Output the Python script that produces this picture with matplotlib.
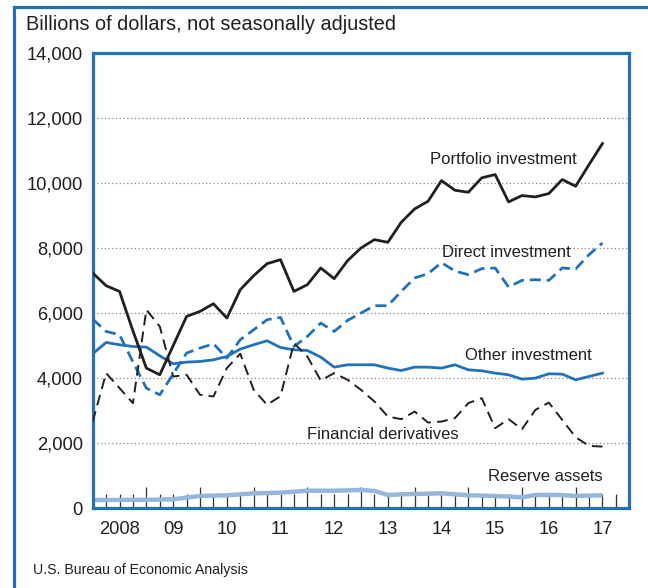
import matplotlib
matplotlib.use("Agg")
import matplotlib.pyplot as plt
from matplotlib.lines import Line2D
import numpy as np

plt.rcParams['font.family'] = ['Liberation Sans', 'DejaVu Sans']

# Quarterly data, end of 2007Q4 .. 2017Q2 (39 quarters)
quarters = [2008 + 0.25 * i for i in range(39)]

portfolio = [7231, 6840, 6665, 5450, 4308, 4102, 5000, 5896, 6050, 6286,
             5846, 6717, 7148, 7517, 7640, 6665, 6871, 7385, 7056, 7610,
             8000, 8256, 8174, 8789, 9200, 9435, 10071, 9773, 9712, 10154,
             10256, 9415, 9610, 9569, 9671, 10102, 9897, 10564, 11210]
direct = [5815, 5435, 5333, 4500, 3692, 3487, 4130, 4770, 4923, 5056,
          4616, 5180, 5487, 5794, 5865, 4972, 5280, 5692, 5435, 5774,
          6000, 6225, 6225, 6665, 7077, 7210, 7548, 7291, 7179, 7364,
          7385, 6800, 7003, 7025, 7003, 7385, 7354, 7795, 8154]
other = [4748, 5096, 5025, 4972, 4954, 4686, 4440, 4492, 4512, 4563,
         4665, 4892, 5025, 5148, 4940, 4871, 4850, 4646, 4338, 4410,
         4410, 4410, 4308, 4234, 4338, 4338, 4308, 4410, 4256, 4225,
         4154, 4102, 3969, 4000, 4133, 4123, 3948, 4051, 4154]
derivatives = [2665, 4154, 3692, 3231, 6102, 5588, 4050, 4102, 3487, 3436,
               4308, 4748, 3641, 3179, 3446, 5077, 4665, 3928, 4154, 3948,
               3641, 3282, 2819, 2739, 2973, 2634, 2665, 2769, 3231, 3385,
               2462, 2739, 2431, 3025, 3249, 2717, 2185, 1917, 1896]
reserve = [255, 255, 258, 260, 262, 268, 277, 330, 378, 390,
           400, 430, 461, 470, 480, 510, 541, 540, 541, 550,
           563, 532, 409, 430, 440, 450, 461, 430, 400, 390,
           378, 360, 338, 409, 410, 409, 378, 390, 400]

yticks = [0, 2000, 4000, 6000, 8000, 10000, 12000, 14000]
ytick_labels = ["0", "2,000", "4,000", "6,000", "8,000", "10,000", "12,000", "14,000"]
year_labels = ["2008", "09", "10", "11", "12", "13", "14", "15", "16", "17"]

BLUE = '#2372b9'
LIGHTBLUE = '#97b6de'
BLACK = '#231f20'

W, H = 648, 588
fig = plt.figure(figsize=(W / 100, H / 100), dpi=100)
ax = fig.add_axes([92.7 / W, 1 - 508.3 / H, (629.3 - 92.7) / W, (508.3 - 52.7) / H])

# grid
for y in yticks[1:-1]:
    ax.axhline(y, color='#8a8a8a', lw=0.9, ls=(0, (1, 2)), zorder=1)

ax.plot(quarters, reserve, color=LIGHTBLUE, lw=3.2, zorder=2, solid_capstyle='butt')
ax.plot(quarters, other, color=BLUE, lw=2.0, zorder=3)
ax.plot(quarters, direct, color=BLUE, lw=2.0, ls=(0, (4.0, 2.1)), zorder=3)
ax.plot(quarters, derivatives, color=BLACK, lw=1.4, ls=(0, (5.5, 3.2)), zorder=4)
ax.plot(quarters, portfolio, color=BLACK, lw=2.0, zorder=5)

ax.set_xlim(2008, 2018)
ax.set_ylim(0, 14000)

for s in ax.spines.values():
    s.set_color(BLUE)
    s.set_linewidth(2.3)

# tick marks: year boundaries taller
ax.set_xticks([2009 + i for i in range(9)])
ax.set_xticks([2008 + 0.25 * i for i in range(1, 40) if i % 4 != 0], minor=True)
ax.tick_params(axis='x', which='major', direction='in', length=15, width=0.9,
               color='#333333', labelbottom=False)
ax.tick_params(axis='x', which='minor', direction='in', length=10, width=0.9,
               color='#333333')

sec = ax.secondary_xaxis('bottom')
sec.set_xticks([2008.5 + i for i in range(10)], year_labels)
sec.tick_params(length=0, pad=9, labelsize=13.2, labelcolor='#231f20')
for s in sec.spines.values():
    s.set_visible(False)

ax.set_yticks(yticks, ytick_labels)
ax.tick_params(axis='y', length=0, pad=7, labelsize=13.2, labelcolor='#231f20')

# series labels
def yv(py):
    return (508.3 - py) / 455.6 * 14000

lab_kw = dict(fontsize=12.0, color='#231f20', ha='center', va='center')
ax.text(2015.65, yv(160), "Portfolio investment", **lab_kw)
ax.text(2015.71, yv(252.3), "Direct investment", **lab_kw)
ax.text(2016.12, yv(356), "Other investment", **lab_kw)
ax.text(2013.41, yv(434.3), "Financial derivatives", **lab_kw)
ax.text(2016.44, yv(476.7), "Reserve assets", **lab_kw)

fig.text(26 / W, 1 - 25 / H, "Billions of dollars, not seasonally adjusted",
         fontsize=14.3, color='#231f20', ha='left', va='center')
fig.text(33 / W, 1 - 570 / H, "U.S. Bureau of Economic Analysis",
         fontsize=10.2, color='#231f20', ha='left', va='center')

# outer frame (left and top)
fig.add_artist(Line2D([13.5 / W, 13.5 / W], [0, 1 - 6.5 / H], color=BLUE, lw=2.3,
                      transform=fig.transFigure, solid_capstyle='projecting'))
fig.add_artist(Line2D([13.5 / W, 1.0], [1 - 6.5 / H, 1 - 6.5 / H], color=BLUE, lw=2.3,
                      transform=fig.transFigure, solid_capstyle='projecting'))

fig.savefig("out.png", dpi=100)
